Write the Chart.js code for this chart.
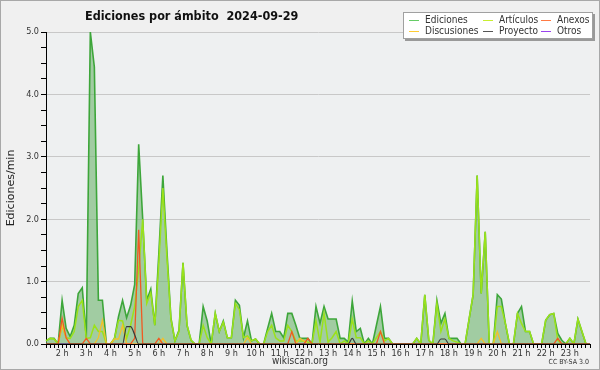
<!DOCTYPE html>
<html>
<head>
<meta charset="utf-8">
<script src="https://cdn.jsdelivr.net/npm/chart.js@4/dist/chart.umd.min.js"></script>
<style>
  body { margin: 0; background: #f0f0f0; }
  #wrap { position: relative; width: 600px; height: 370px; background: #f0f0f0; overflow: hidden; }
  #frame { position: absolute; left: 0; top: 0; width: 598px; height: 368px; border: 1px solid #a8a8a8; pointer-events: none; }
  .cond { font-family: "DejaVu Sans Condensed", "DejaVu Sans", sans-serif; font-stretch: condensed; }
  #titulo { position: absolute; left: 85px; top: 8px; font-size: 12.5px; font-weight: bold; color: #111; white-space: pre; }
  #leyenda { position: absolute; left: 403px; top: 12px; width: 188px; height: 25px; background: #fff;
             border: 1px solid #a0a0a0; box-shadow: 2px 2px 0 #999; font-size: 10px; color: #333; }
  .item { position: absolute; line-height: 10px; white-space: nowrap; }
  .item i { display: inline-block; width: 10px; height: 1px; vertical-align: middle; margin-right: 6px; }
  #fuente { position: absolute; left: 0; width: 600px; top: 355px; text-align: center; font-size: 10px; color: #333; }
  #licencia { position: absolute; right: 11px; top: 358px; font-size: 7px; color: #333; }
</style>
</head>
<body>
<div id="wrap">
  <canvas id="grafico" width="600" height="370"></canvas>
  <div id="titulo" class="cond">Ediciones por ámbito  2024-09-29</div>
  <div id="leyenda" class="cond"></div>
  <div id="fuente" class="cond">wikiscan.org</div>
  <div id="licencia" class="cond">CC BY-SA 3.0</div>
  <div id="frame"></div>
</div>
<script>
// franjas de 10 minutos, desde la 01:20 hasta las 23:50
const horaInicio = 1, minutoInicio = 20, numFranjas = 136;
const franjas = [];
for (let i = 0; i < numFranjas; i++) {
  const m = horaInicio * 60 + minutoInicio + i * 10;
  franjas.push(String(Math.floor(m / 60)).padStart(2, "0") + ":" + String(m % 60).padStart(2, "0"));
}

// ediciones por minuto (una por franja)
const ediciones = [
  0.05, 0.09, 0.09, 0, 0.7, 0.25, 0.12, 0.3, 0.81, 0.9,
  0.1, 5.0, 4.44, 0.7, 0.7, 0, 0, 0.09, 0.44, 0.7,
  0.42, 0.62, 0.95, 3.2, 2.0, 0.7, 0.88, 0.3, 1.45, 2.7,
  1.5, 0.42, 0.05, 0.22, 1.3, 0.3, 0.06, 0, 0, 0.6,
  0.37, 0, 0.49, 0.2, 0.37, 0.1, 0.1, 0.7, 0.62, 0.1,
  0.37, 0.05, 0.08, 0, 0, 0.25, 0.49, 0.2, 0.2, 0.1,
  0.49, 0.49, 0.3, 0.09, 0.09, 0.09, 0, 0.6, 0.33, 0.6,
  0.4, 0.4, 0.4, 0.09, 0.09, 0.03, 0.69, 0.2, 0.25, 0,
  0.09, 0, 0.3, 0.6, 0.09, 0.09, 0, 0, 0, 0,
  0, 0, 0.09, 0, 0.79, 0.06, 0, 0.7, 0.33, 0.49,
  0.09, 0.09, 0.09, 0, 0, 0.4, 0.79, 2.7, 0.81, 1.8,
  0, 0, 0.79, 0.72, 0.33, 0, 0, 0.49, 0.6, 0.2,
  0.2, 0, 0, 0, 0.38, 0.47, 0.49, 0.17, 0.06, 0,
  0.09, 0, 0.4, 0.2, 0, 0
];
const articulos = [
  0.05, 0.09, 0.08, 0, 0.3, 0.1, 0.09, 0.2, 0.6, 0.7,
  0.09, 0.1, 0.3, 0.2, 0.2, 0, 0, 0.09, 0.38, 0.37,
  0.09, 0.3, 0.6, 1.2, 2.0, 0.65, 0.82, 0.3, 1.3, 2.5,
  1.4, 0.4, 0.05, 0.2, 1.3, 0.3, 0.06, 0, 0, 0.3,
  0.1, 0, 0.49, 0.2, 0.35, 0.1, 0.1, 0.65, 0.55, 0.1,
  0.13, 0.05, 0.08, 0, 0, 0.2, 0.3, 0.1, 0.05, 0.05,
  0.3, 0.2, 0.05, 0.05, 0.05, 0.03, 0, 0.37, 0.03, 0.49,
  0.03, 0.1, 0.2, 0, 0.05, 0, 0.4, 0.1, 0.1, 0,
  0.05, 0, 0.1, 0.2, 0.05, 0.09, 0, 0, 0, 0,
  0, 0, 0.09, 0, 0.79, 0.06, 0, 0.65, 0.2, 0.4,
  0.09, 0.05, 0.03, 0, 0, 0.4, 0.79, 2.7, 0.81, 1.8,
  0, 0, 0.6, 0.6, 0.33, 0, 0, 0.49, 0.33, 0.2,
  0.2, 0, 0, 0, 0.38, 0.47, 0.49, 0.06, 0, 0,
  0.09, 0, 0.4, 0.2, 0, 0
];
const anexos = [
  0, 0, 0, 0, 0.41, 0.1, 0, 0, 0, 0,
  0.09, 0, 0, 0, 0, 0, 0, 0, 0, 0,
  0, 0, 0.09, 1.83, 0, 0, 0, 0, 0.09, 0,
  0, 0, 0, 0, 0, 0, 0, 0, 0, 0,
  0, 0, 0, 0, 0, 0, 0, 0, 0, 0,
  0, 0, 0, 0, 0, 0, 0, 0, 0, 0,
  0, 0.2, 0, 0, 0, 0.09, 0, 0, 0, 0,
  0, 0, 0, 0, 0, 0, 0, 0, 0, 0,
  0, 0, 0, 0.2, 0, 0, 0, 0, 0, 0,
  0, 0, 0, 0, 0, 0, 0, 0, 0, 0,
  0, 0, 0, 0, 0, 0, 0, 0, 0, 0,
  0, 0, 0, 0, 0, 0, 0, 0, 0, 0,
  0, 0, 0, 0, 0, 0, 0, 0.09, 0, 0,
  0, 0, 0, 0, 0, 0
];
const discusiones = [
  0, 0, 0, 0, 0.3, 0.1, 0, 0, 0, 0,
  0, 0, 0, 0.1, 0.38, 0, 0, 0.08, 0.08, 0.3,
  0, 0, 0, 0, 0, 0, 0, 0, 0, 0.09,
  0, 0, 0, 0, 0, 0, 0, 0, 0, 0,
  0, 0, 0, 0, 0, 0, 0, 0, 0, 0,
  0.1, 0, 0, 0, 0, 0, 0, 0, 0, 0,
  0, 0, 0, 0.09, 0.05, 0, 0, 0, 0, 0,
  0, 0, 0, 0, 0, 0, 0, 0, 0, 0,
  0, 0, 0, 0, 0, 0, 0, 0, 0, 0,
  0, 0, 0, 0, 0, 0, 0, 0, 0, 0,
  0, 0, 0, 0, 0, 0, 0, 0, 0.09, 0,
  0, 0, 0.2, 0, 0, 0, 0, 0, 0, 0,
  0, 0, 0, 0, 0, 0, 0, 0, 0, 0,
  0, 0, 0, 0, 0, 0
];
const proyecto = [
  0, 0, 0, 0, 0, 0, 0, 0, 0, 0,
  0, 0, 0, 0, 0, 0, 0, 0, 0, 0,
  0.28, 0.28, 0.15, 0, 0, 0, 0, 0, 0, 0,
  0, 0, 0, 0, 0, 0, 0, 0, 0, 0,
  0, 0, 0, 0, 0, 0, 0, 0, 0, 0,
  0, 0, 0, 0, 0, 0, 0, 0, 0, 0,
  0, 0, 0, 0, 0, 0, 0, 0, 0, 0,
  0, 0, 0, 0, 0, 0, 0.09, 0, 0, 0,
  0, 0, 0, 0, 0, 0, 0, 0, 0, 0,
  0, 0, 0, 0, 0, 0, 0, 0, 0.08, 0.08,
  0, 0, 0, 0, 0, 0, 0, 0, 0, 0,
  0, 0, 0, 0, 0, 0, 0, 0, 0, 0,
  0, 0, 0, 0, 0, 0, 0, 0, 0, 0,
  0, 0, 0, 0, 0, 0
];
const otros = new Array(numFranjas).fill(0);

const ticksY = [0, 1, 2, 3, 4, 5];

// leyenda en html: [nombre, color, columna, fila]
const leyenda = [
  ["Ediciones", "#66cc66", 0, 0], ["Artículos", "#c8ee30", 1, 0], ["Anexos", "#ff7a44", 2, 0],
  ["Discusiones", "#ffcc33", 0, 1], ["Proyecto", "#555555", 1, 1], ["Otros", "#9a44ee", 2, 1]
];
const colX = [5, 79, 137];
const caja = document.getElementById("leyenda");
leyenda.forEach(([nombre, color, c, f]) => {
  const d = document.createElement("div");
  d.className = "item";
  d.style.left = colX[c] + "px";
  d.style.top = (2 + f * 11) + "px";
  d.innerHTML = `<i style="background:${color}"></i>${nombre}`;
  caja.appendChild(d);
});

// fondo del área de trazado
const fondoArea = {
  id: "fondoArea",
  beforeDraw(chart) {
    const { ctx, chartArea: a } = chart;
    ctx.save();
    ctx.fillStyle = "#eef0f1";
    ctx.fillRect(a.left, a.top, a.right - a.left, a.bottom - a.top);
    ctx.restore();
  }
};

function serie(label, data, color, ancho, orden, extra) {
  return Object.assign({
    label, data, borderColor: color, borderWidth: ancho, pointRadius: 0,
    tension: 0, fill: false, order: orden
  }, extra || {});
}

const fuente = { family: "'DejaVu Sans Condensed', 'DejaVu Sans', sans-serif", size: 9 };

new Chart(document.getElementById("grafico"), {
  type: "line",
  data: {
    labels: franjas,
    datasets: [
      serie("Ediciones", ediciones, "#3da63a", 1.6, 9, { fill: "origin", backgroundColor: "rgba(110,180,110,0.6)" }),
      serie("Artículos", articulos, "#9be21a", 1.5, 5),
      serie("Anexos", anexos, "#f05a22", 1.3, 3),
      serie("Discusiones", discusiones, "#f2c12a", 1.3, 4),
      serie("Proyecto", proyecto, "#3a3a3a", 1.2, 2, { cubicInterpolationMode: "monotone" }),
      serie("Otros", otros, "#9933ee", 1.2, 6)
    ]
  },
  options: {
    responsive: false,
    animation: false,
    layout: { padding: { top: 32, right: 10, left: 0, bottom: 0 } },
    plugins: { legend: { display: false }, tooltip: { enabled: false } },
    scales: {
      x: {
        type: "category",
        offset: false,
        grid: { drawOnChartArea: false, color: "#000", tickColor: "#000", tickLength: 4 },
        border: { color: "#000", width: 1 },
        ticks: {
          autoSkip: false, maxRotation: 0, minRotation: 0, padding: 0, color: "#333", font: fuente,
          callback(v, i) {
            const t = franjas[i];
            return t.endsWith(":00") ? String(parseInt(t, 10)) + " h" : "";
          }
        },
        afterFit(s) { s.height = 26; }
      },
      y: {
        min: 0, max: 5,
        grid: {
          color: c => (Number.isInteger(c.tick.value) && c.tick.value > 0 ? "#c8c8c8" : "rgba(0,0,0,0)"),
          tickColor: "#000", tickLength: 5, lineWidth: 1
        },
        border: { color: "#000", width: 1 },
        ticks: {
          stepSize: 0.25, padding: 2, color: "#333", font: fuente,
          callback: v => (ticksY.includes(v) ? v.toFixed(1) : "")
        },
        title: {
          display: true, text: "Ediciones/min", color: "#222",
          font: { family: "'DejaVu Sans', sans-serif", size: 11 }, padding: { top: 5, bottom: 0 }
        },
        afterFit(s) { s.width = 46; }
      }
    }
  },
  plugins: [fondoArea]
});
</script>
</body>
</html>
